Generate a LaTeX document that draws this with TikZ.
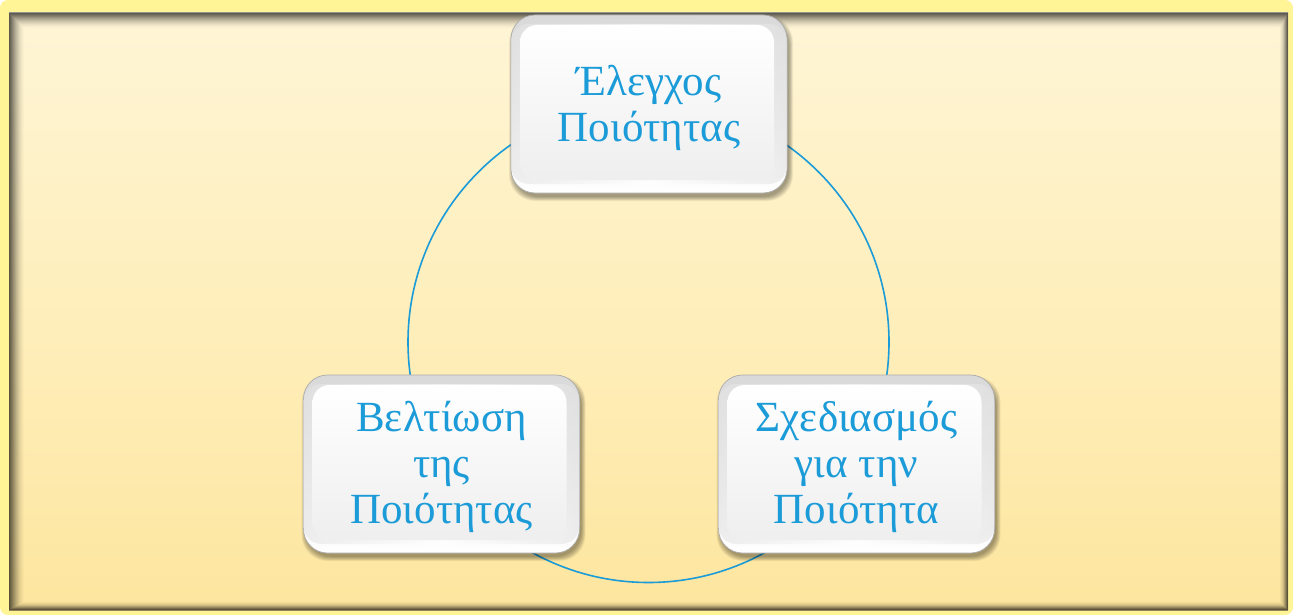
\documentclass[tikz,border=0pt]{standalone}
\usepackage{fontspec}
\setmainfont{Liberation Serif}
\definecolor{qblue}{RGB}{27,155,215}
\definecolor{frameyellow}{RGB}{255,244,150}
\definecolor{panelA}{RGB}{254,235,168}
\definecolor{panelB}{RGB}{252,223,138}
\definecolor{panelC}{RGB}{254,237,182}
\definecolor{panelD}{RGB}{255,252,240}
\pgfdeclareverticalshading{panelshade}{100bp}{%
  color(0bp)=(panelA); color(8bp)=(panelB); color(45bp)=(panelC); color(100bp)=(panelD)}
\tikzset{
  qline/.style={qblue, line width=1.6pt},
  qtext/.style={align=center, text=qblue, font=\fontsize{43}{46}\selectfont, inner sep=0pt},
}
% glossy rounded box: #1 centre x, #2 centre y
\newcommand\glossybox[2]{%
  \foreach \k in {0,...,7}{%
    \fill[black, opacity=0.05, rounded corners=26pt]
      ({#1-138-2+\k*0.6},{#2-89+1+\k*0.6}) rectangle ({#1+138+6-\k*0.6},{#2+89+8-\k*0.6});
  }
  \shade[rounded corners=24pt, top color=gray!30, bottom color=white, draw=gray!65, line width=0.7pt]
    ({#1-138},{#2-89}) rectangle ({#1+138},{#2+89});
  \shade[rounded corners=18pt, left color=gray!22, right color=gray!22, middle color=white, opacity=0.6]
    ({#1-138},{#2-80}) rectangle ({#1+138},{#2+80});
  \shade[rounded corners=17pt, top color=white, bottom color=gray!13]
    ({#1-129},{#2-79}) rectangle ({#1+125},{#2+76});
}
\begin{document}
\begin{tikzpicture}[x=1pt, y=-1pt]
  \useasboundingbox (0,0) rectangle (1293,615);
  % outer frame
  \fill[white] (0,0) rectangle (1293,615);
  \fill[frameyellow, rounded corners=8pt] (0,0) rectangle (1293,615);
  % panel with warm gradient
  \shade[shading=panelshade] (9,13) rectangle (1288,610);
  \draw[white, line width=1pt] (9,12.5) -- (1288,12.5);
  % inner shadow of the panel
  \begin{scope}
    \clip (9,13) rectangle (1288,610);
    \foreach \i in {0,...,16}{%
      \pgfmathsetmacro\op{0.42*(1-\i/17)^2}
      \draw[black, opacity=\op, line width=1.1pt]
        ({9+\i},{13+\i}) rectangle ({1288-\i*0.55},{610-\i*0.55});
    }
  \end{scope}
  % cycle connecting the three steps
  \coordinate (hub) at (648.5,342);
  \draw[qline] (hub) circle[radius=240.5];
  % boxes
  \glossybox{649}{104}
  \glossybox{441.5}{464}
  \glossybox{856.5}{464}
  % labels
  \node[qtext] (ctrl) at (649,108) {Έλεγχος\\Ποιότητας};
  \node[qtext] (improve) at (441.5,467) {Βελτίωση\\της\\Ποιότητας};
  \node[qtext] (plan) at (856.5,467) {Σχεδιασμός\\για την\\Ποιότητα};
\end{tikzpicture}
\end{document}
